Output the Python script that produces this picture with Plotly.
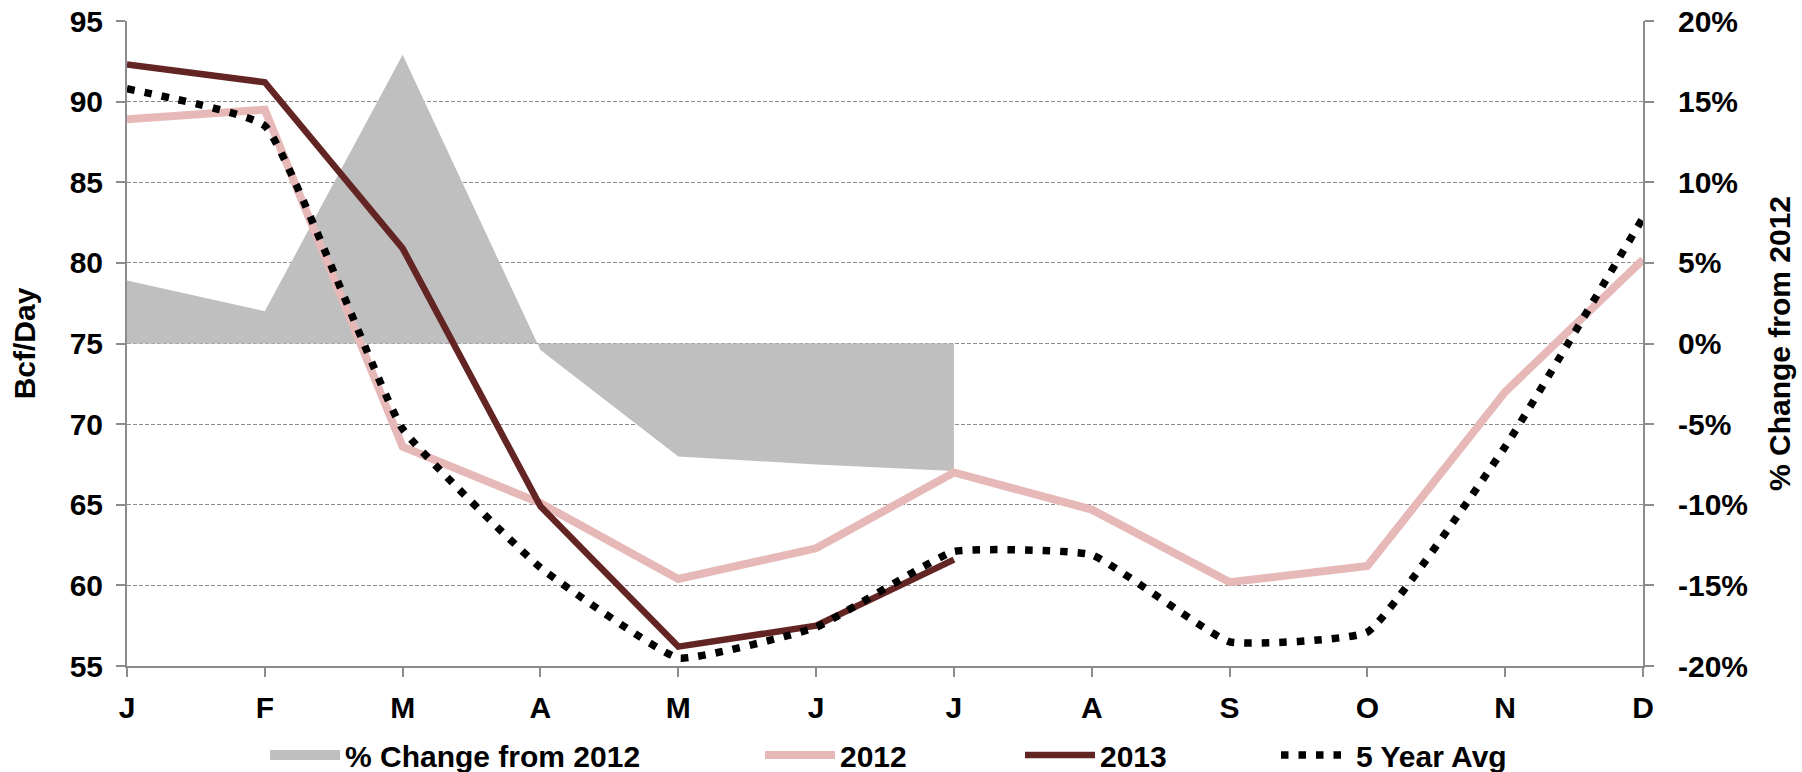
import plotly.graph_objects as go

months = ["J", "F", "M", "A", "M", "J", "J", "A", "S", "O", "N", "D"]
y2012 = [88.9, 89.5, 68.6, 65.1, 60.4, 62.3, 67.0, 64.7, 60.2, 61.2, 72.0, 80.2]
y2013 = [92.3, 91.2, 80.9, 64.9, 56.2, 57.5, 61.6]
avg5 = [90.8, 88.5, 69.7, 61.1, 55.5, 57.4, 62.1, 61.9, 56.5, 57.1, 68.6, 82.8]
pct_change = [0.039, 0.020, 0.179, -0.004, -0.070, -0.075, -0.079]

left_ticks = [55, 60, 65, 70, 75, 80, 85, 90, 95]
pct_ticks = [-0.20, -0.15, -0.10, -0.05, 0.0, 0.05, 0.10, 0.15, 0.20]
pct_labels = ["-20%", "-15%", "-10%", "-5%", "0%", "5%", "10%", "15%", "20%"]

x_all = list(range(len(months)))

FONT = "Liberation Sans, Arial, sans-serif"
GRID = "#8c8c8c"
AREA = "#bfbfbf"

fig = go.Figure()

fig.add_trace(go.Scatter(
    x=x_all[:len(pct_change)], y=pct_change, name="% Change from 2012",
    mode="none", fill="tozeroy", fillcolor=AREA, yaxis="y",
    showlegend=False))

# legend-only swatch for the area series (no data drawn)
fig.add_trace(go.Scatter(
    x=[None], y=[None], name="% Change from 2012", mode="lines",
    line=dict(color=AREA, width=15), yaxis="y", legend="legend"))

fig.add_trace(go.Scatter(
    x=x_all, y=y2012, name="2012", mode="lines",
    line=dict(color="#e6b9b8", width=8), yaxis="y2", legend="legend2"))

fig.add_trace(go.Scatter(
    x=x_all[:len(y2013)], y=y2013, name="2013", mode="lines",
    line=dict(color="#632523", width=6.5), yaxis="y2", legend="legend3"))

fig.add_trace(go.Scatter(
    x=x_all, y=avg5, name="5 Year Avg", mode="lines",
    line=dict(color="black", width=7.5, dash="7.5px,10px", shape="spline", smoothing=0.35),
    yaxis="y2", legend="legend4"))

L, R, T, B = 127, 1802 - 1643, 21, 772 - 666
pw = 1802 - L - R


def lx(px):
    return (px - L) / pw


leg_common = dict(orientation="h", yanchor="middle", y=-0.138, xanchor="left",
                  bgcolor="rgba(0,0,0,0)", itemwidth=70,
                  font=dict(family=FONT, size=30, color="black", weight="bold"))

fig.update_layout(
    width=1802, height=772,
    margin=dict(l=L, r=R, t=T, b=B, autoexpand=False),
    paper_bgcolor="white", plot_bgcolor="white",
    font=dict(family=FONT, size=30, color="black", weight="bold"),
    showlegend=True,
    legend=dict(x=lx(265), **leg_common),
    legend2=dict(x=lx(760), **leg_common),
    legend3=dict(x=lx(1020), **leg_common),
    legend4=dict(x=lx(1276), **leg_common),
    xaxis=dict(range=[0, len(months) - 1], tickvals=x_all, ticktext=months,
               showline=True, linecolor=GRID, linewidth=2, ticks="outside",
               ticklen=9, tickcolor=GRID, tickwidth=1.5, showgrid=False,
               zeroline=False, ticklabelstandoff=5, anchor="y"),
    yaxis=dict(side="right", range=[pct_ticks[0], pct_ticks[-1]],
               tickvals=pct_ticks, ticktext=pct_labels,
               showline=True, linecolor=GRID, linewidth=2, ticks="outside",
               ticklen=9, tickcolor=GRID, tickwidth=1.5,
               showgrid=True, gridcolor=GRID, gridwidth=1, griddash="4px,2px",
               zeroline=False, ticklabelstandoff=18,
               title=dict(text="% Change from 2012", standoff=22,
                          font=dict(family=FONT, size=30, weight="bold"))),
    yaxis2=dict(side="left", overlaying="y", range=[left_ticks[0], left_ticks[-1]],
                tickvals=left_ticks, showline=True, linecolor=GRID, linewidth=2,
                ticks="outside", ticklen=9, tickcolor=GRID, tickwidth=1.5,
                showgrid=False, zeroline=False, ticklabelstandoff=7,
                title=dict(text="Bcf/Day", standoff=25,
                           font=dict(family=FONT, size=30, weight="bold"))),
)

fig.write_html("out.html")
